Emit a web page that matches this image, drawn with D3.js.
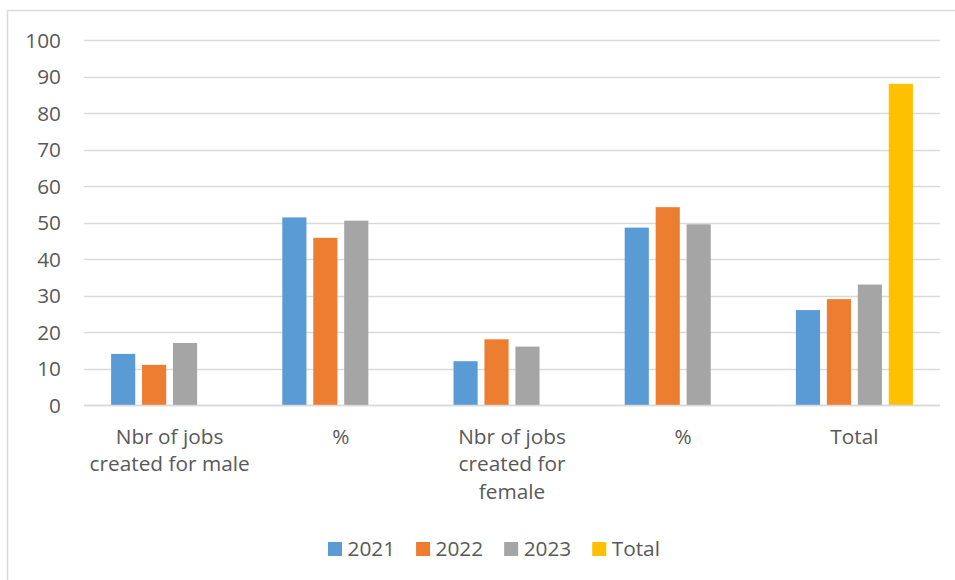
<!DOCTYPE html>
<html>
<head>
<meta charset="utf-8">
<script src="https://cdn.jsdelivr.net/npm/d3@7/dist/d3.min.js"></script>
<style>
  html, body { margin: 0; padding: 0; background: #fff; }
  svg { display: block; }
  text { font-family: "Open Sans", "Liberation Sans", sans-serif; fill: #595959; }
</style>
</head>
<body>
<svg id="chart" width="955" height="580"></svg>
<script>
const categories = ["Nbr of jobs\ncreated for male", "%", "Nbr of jobs\ncreated for\nfemale", "%", "Total"];
const seriesNames = ["2021", "2022", "2023", "Total"];
const colors = ["#5b9bd5", "#ed7d31", "#a5a5a5", "#ffc000"];
const values2021 = [14, 51.4, 12, 48.6, 26];
const values2022 = [11, 45.8, 18, 54.2, 29];
const values2023 = [17, 50.5, 16, 49.5, 33];
const valuesTotal = [null, null, null, null, 88];
const yTicks = [0, 10, 20, 30, 40, 50, 60, 70, 80, 90, 100];

const seriesValues = [values2021, values2022, values2023, valuesTotal];
const FS = "20.8px";

const svg = d3.select("#chart");
const W = 955, H = 580;
const plot = { left: 84, right: 940, top: 40, bottom: 405 };

// chart frame (cropped on right/bottom)
svg.append("rect")
  .attr("x", 7.5).attr("y", 10.5)
  .attr("width", W + 20).attr("height", H + 20)
  .attr("fill", "#fff")
  .attr("stroke", "#d9d9d9").attr("stroke-width", 1.5);

const x0 = d3.scaleBand().domain(d3.range(categories.length))
  .range([plot.left, plot.right]).padding(0);
const groupW = 117;
const gap = (x0.bandwidth() - groupW) / 2;
const x1 = d3.scaleBand().domain(seriesNames)
  .range([gap, gap + groupW]).paddingInner(0.22).paddingOuter(0);
const y = d3.scaleLinear().domain([0, 100]).range([plot.bottom, plot.top]);

// gridlines
svg.append("g").selectAll("line").data(yTicks).join("line")
  .attr("x1", plot.left).attr("x2", plot.right)
  .attr("y1", d => Math.round(y(d)) + 0.5).attr("y2", d => Math.round(y(d)) + 0.5)
  .attr("stroke", "#d9d9d9").attr("stroke-width", 1.3);

// y axis labels via d3 axis
const yAxis = d3.axisLeft(y).tickValues(yTicks).tickSize(0).tickPadding(0);
const ya = svg.append("g").attr("transform", `translate(61,0)`).call(yAxis);
ya.select(".domain").remove();
ya.selectAll("text")
  .style("font-family", '"Open Sans", "Liberation Sans", sans-serif')
  .style("font-size", FS).attr("fill", "#595959").attr("dy", "0.35em");

// bars
const groups = svg.append("g").selectAll("g").data(categories).join("g")
  .attr("transform", (d, i) => `translate(${x0(i)},0)`);
groups.selectAll("rect")
  .data((d, i) => seriesNames.map((s, k) => ({ s, k, v: seriesValues[k][i] })).filter(e => e.v != null))
  .join("rect")
  .attr("x", e => x1(e.s))
  .attr("width", x1.bandwidth())
  .attr("y", e => y(e.v))
  .attr("height", e => y(0) - y(e.v))
  .attr("fill", e => colors[e.k]);

// baseline
svg.append("line")
  .attr("x1", plot.left).attr("x2", plot.right)
  .attr("y1", Math.round(y(0)) + 0.5).attr("y2", Math.round(y(0)) + 0.5)
  .attr("stroke", "#d9d9d9").attr("stroke-width", 1.3);

// category labels
const lineH = 27.8;
categories.forEach((c, i) => {
  const lines = c.split("\n");
  const t = svg.append("text")
    .attr("x", x0(i) + x0.bandwidth() / 2)
    .attr("y", 443.5)
    .attr("text-anchor", "middle")
    .style("font-size", FS);
  lines.forEach((ln, j) => {
    t.append("tspan").attr("x", x0(i) + x0.bandwidth() / 2)
      .attr("y", 443.5 + j * lineH).text(ln);
  });
});

// legend
const leg = svg.append("g");
let lx = 328;
seriesNames.forEach((s, k) => {
  leg.append("rect").attr("x", lx).attr("y", 542).attr("width", 14).attr("height", 14)
    .attr("fill", colors[k]);
  const t = leg.append("text").attr("x", lx + 19.5).attr("y", 556)
    .style("font-size", FS).text(s);
  const w = t.node().getComputedTextLength();
  lx += 19.5 + w + 21;
});
</script>
</body>
</html>
